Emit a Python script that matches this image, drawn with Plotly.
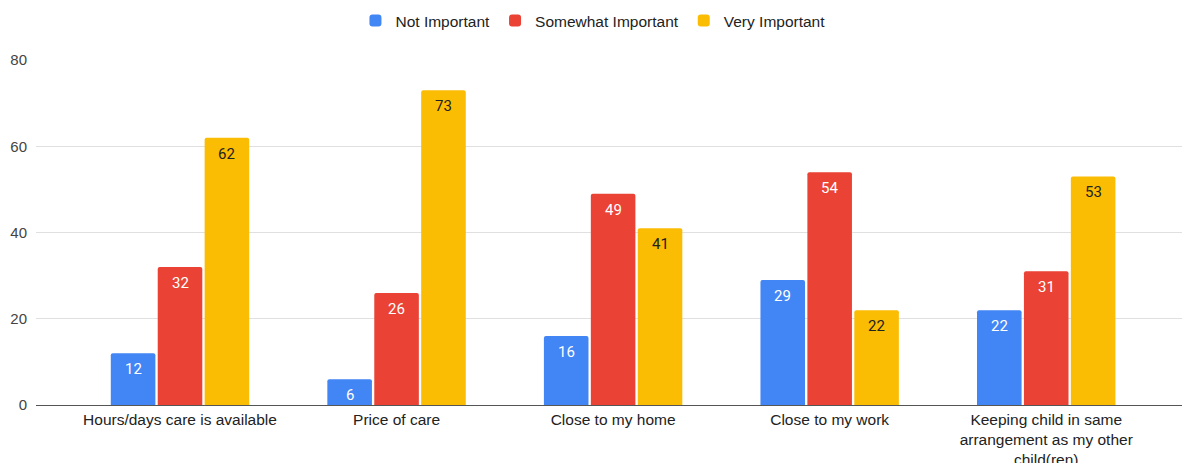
import plotly.graph_objects as go

categories = [
    "Hours/days care is available",
    "Price of care",
    "Close to my home",
    "Close to my work",
    "Keeping child in same<br>arrangement as my other<br>child(ren)",
]
not_important = [12, 6, 16, 29, 22]
somewhat_important = [32, 26, 49, 54, 31]
very_important = [62, 73, 41, 22, 53]

series = [
    ("Not Important", not_important, "#4285F4", "#ffffff"),
    ("Somewhat Important", somewhat_important, "#EA4335", "#ffffff"),
    ("Very Important", very_important, "#FBBC04", "#222222"),
]

BARGAP = 0.35
BARGROUPGAP = 0.05
slot = (1 - BARGAP) / len(series)

fig = go.Figure()
annotations = []
for k, (name, vals, color, txtcolor) in enumerate(series):
    fig.add_trace(go.Bar(
        name=name,
        x=categories,
        y=vals,
        marker=dict(color=color, line=dict(width=0)),
    ))
    # value labels sit just inside the top of each bar
    offset = (k - (len(series) - 1) / 2) * slot
    for i, v in enumerate(vals):
        annotations.append(dict(
            x=i + offset, y=v, xref="x", yref="y",
            text=str(v), showarrow=False,
            yanchor="middle", yshift=-16,
            font=dict(family="Roboto", size=15, color=txtcolor),
        ))

fig.update_layout(
    width=1182,
    height=463,
    margin=dict(l=36, r=0, t=60, b=58),
    paper_bgcolor="white",
    plot_bgcolor="white",
    barmode="group",
    bargap=BARGAP,
    bargroupgap=BARGROUPGAP,
    barcornerradius=2,
    font=dict(family="Liberation Sans, Arial, sans-serif", size=15, color="#222222"),
    annotations=annotations,
    legend=dict(
        orientation="h",
        x=0.486,
        xanchor="center",
        y=1.113,
        yanchor="middle",
        font=dict(size=15.5, color="#222222"),
        itemwidth=30,
        tracegroupgap=0,
    ),
    xaxis=dict(
        range=[-0.665, 4.627],
        showgrid=False,
        showline=True,
        linecolor="#555555",
        linewidth=1,
        ticks="",
        tickfont=dict(size=15.5, color="#222222"),
        automargin=False,
    ),
    yaxis=dict(
        range=[0, 80],
        tickvals=[0, 20, 40, 60, 80],
        showgrid=True,
        gridcolor="#e0e0e0",
        gridwidth=1,
        zeroline=False,
        ticks="",
        tickfont=dict(size=15, color="#444444"),
        ticklabelstandoff=8,
        automargin=False,
    ),
)

fig.write_html("out.html")
